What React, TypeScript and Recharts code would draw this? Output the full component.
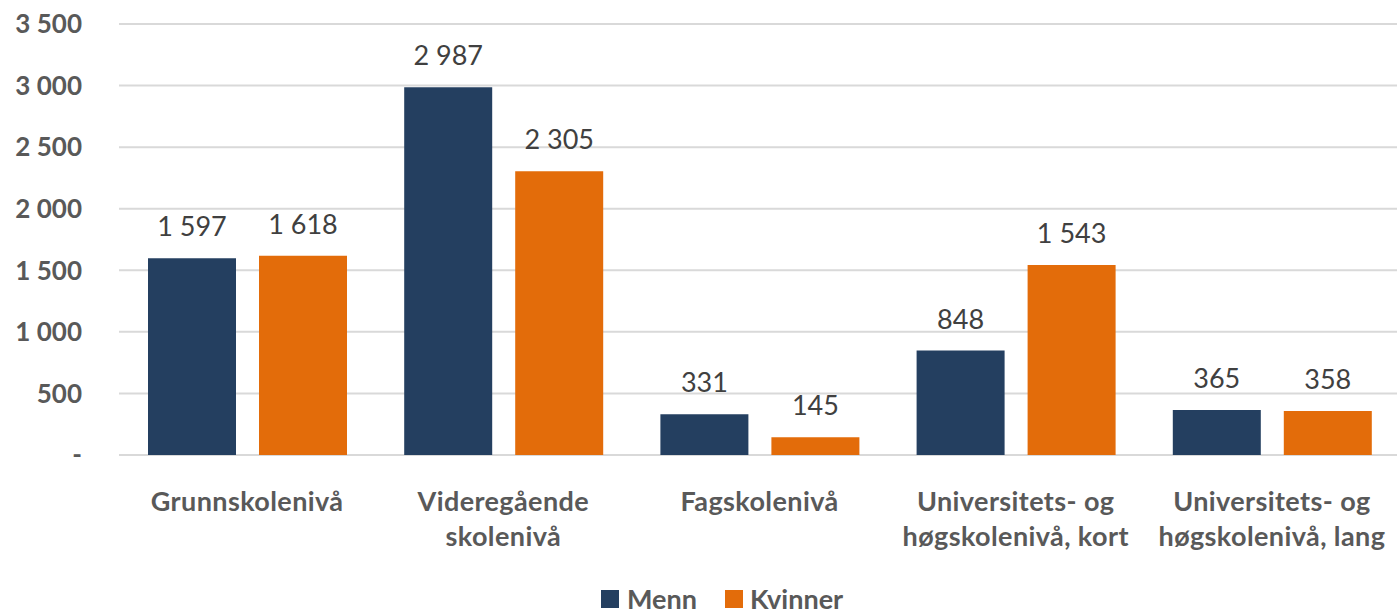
import React from 'react';
import { BarChart, Bar, XAxis, YAxis, CartesianGrid, LabelList, Legend } from 'recharts';

const categories = [
  'Grunnskolenivå',
  'Videregående\nskolenivå',
  'Fagskolenivå',
  'Universitets- og\nhøgskolenivå, kort',
  'Universitets- og\nhøgskolenivå, lang',
];
const menn = [1597, 2987, 331, 848, 365];
const kvinner = [1618, 2305, 145, 1543, 358];
const yTicks = [0, 500, 1000, 1500, 2000, 2500, 3000, 3500];

const data = categories.map((c, i) => ({ name: c, Menn: menn[i], Kvinner: kvinner[i] }));

const FONT = 'Lato, "Open Sans", sans-serif';
const NAVY = '#243F60';
const ORANGE = '#E36C0A';

const fmt = (v: number) => (v === 0 ? '-' : String(v).replace(/\B(?=(\d{3})+(?!\d))/g, ' '));

const XTick = (props: any) => {
  const { x, y, payload } = props;
  const lines = String(payload.value).split('\n');
  return (
    <g transform={`translate(${x},${y})`}>
      {lines.map((l: string, i: number) => (
        <text
          key={i}
          x={0}
          y={48 + i * 35}
          textAnchor="middle"
          fill="#595959"
          fontFamily={FONT}
          fontWeight={700}
          fontSize={27}
          letterSpacing={0.4}
        >
          {l}
        </text>
      ))}
    </g>
  );
};

const LegendContent = () => (
  <div style={{ display: 'flex', justifyContent: 'flex-start', alignItems: 'center', fontFamily: FONT, fontWeight: 700, fontSize: 27, color: '#595959', paddingLeft: 601, lineHeight: '32px', height: 32 }}>
    <span style={{ display: 'inline-block', width: 18, height: 18, background: NAVY, marginRight: 8 }} />
    <span style={{ marginRight: 28 }}>Menn</span>
    <span style={{ display: 'inline-block', width: 18, height: 18, background: ORANGE, marginRight: 7 }} />
    <span>Kvinner</span>
  </div>
);

export default function App() {
  return (
    <div style={{ position: 'absolute', left: 0, top: 0, width: 1397, height: 615, background: '#fff', overflow: 'hidden' }}>
      <BarChart
        width={1397}
        height={615}
        data={data}
        margin={{ top: 24, right: -3, left: 0, bottom: 0 }}
        barGap={23}
        barCategoryGap={28}
      >
        <CartesianGrid vertical={false} stroke="#D9D9D9" strokeWidth={2} />
        <XAxis
          dataKey="name"
          axisLine={false}
          tickLine={false}
          tick={<XTick />}
          interval={0}
          height={128}
        />
        <YAxis
          domain={[0, 3500]}
          ticks={yTicks}
          axisLine={false}
          tickLine={false}
          width={119}
          tickMargin={31}
          tickFormatter={fmt}
          tick={{ fill: '#595959', fontFamily: FONT, fontWeight: 700, fontSize: 26 }}
        />
        <Legend
          verticalAlign="bottom"
          content={<LegendContent />}
          wrapperStyle={{ left: 0, width: 1397, bottom: 0 }}
        />
        <Bar dataKey="Menn" fill={NAVY} barSize={88} isAnimationActive={false}>
          <LabelList dataKey="Menn" position="top" offset={22} formatter={fmt} fill="#404040" fontFamily={FONT} fontSize={27} />
        </Bar>
        <Bar dataKey="Kvinner" fill={ORANGE} barSize={88} isAnimationActive={false}>
          <LabelList dataKey="Kvinner" position="top" offset={22} formatter={fmt} fill="#404040" fontFamily={FONT} fontSize={27} />
        </Bar>
      </BarChart>
    </div>
  );
}
